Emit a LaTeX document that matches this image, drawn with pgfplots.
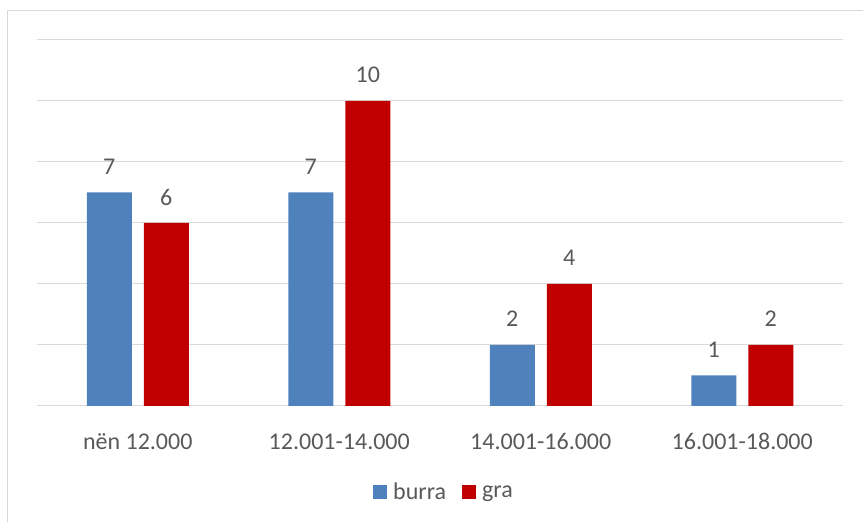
\documentclass[border=0pt]{standalone}
\usepackage{fontspec}
\setmainfont{Carlito}
\usepackage{pgfplots}
\pgfplotsset{compat=1.18}
\definecolor{cblue}{HTML}{4F81BD}
\definecolor{cred}{HTML}{C00000}
\definecolor{tgray}{HTML}{595959}
\definecolor{ggray}{HTML}{D9D9D9}
\begin{document}
\begin{tikzpicture}[x=1pt,y=1pt]
\useasboundingbox (0,0) rectangle (863,522);
\draw[ggray, line width=1.3pt] (7.5,0) -- (7.5,511.5) -- (870,511.5);
\begin{axis}[
  at={(37pt,116pt)}, anchor=south west,
  scale only axis, width=806pt, height=366pt,
  xmin=-0.5, xmax=3.5, ymin=0, ymax=12,
  ybar=12pt, bar width=45pt,
  /pgf/number format/assume math mode=true,
  xtick={0,1,2,3},
  xticklabels={nën 12.000, 12.001-14.000, 14.001-16.000, 16.001-18.000},
  xticklabel style={font=\fontsize{24}{28}\selectfont, text=tgray, anchor=base, yshift=-39pt},
  ytick={0,2,...,12}, yticklabels={},
  ymajorgrids, major grid style={draw=ggray, line width=1pt},
  axis line style={draw=none}, tick style={draw=none},
  nodes near coords,
  every node near coord/.append style={font=\fontsize{24}{28}\selectfont, text=tgray, anchor=center, yshift=26pt},
  legend style={at={(0.505,-0.235)}, anchor=center, draw=none, fill=none,
    font=\fontsize{24}{28}\selectfont, text=tgray, legend columns=2,
    /tikz/every odd column/.append style={column sep=4pt},
    /tikz/every even column/.append style={column sep=14pt}},
  legend image code/.code={\fill[#1] (0pt,-7pt) rectangle (14pt,7pt);},
]
\addplot[fill=cblue, draw=none] coordinates {(0,7) (1,7) (2,2) (3,1)};
\addplot[fill=cred, draw=none] coordinates {(0,6) (1,10) (2,4) (3,2)};
\legend{burra, gra}
\end{axis}
\end{tikzpicture}
\end{document}
